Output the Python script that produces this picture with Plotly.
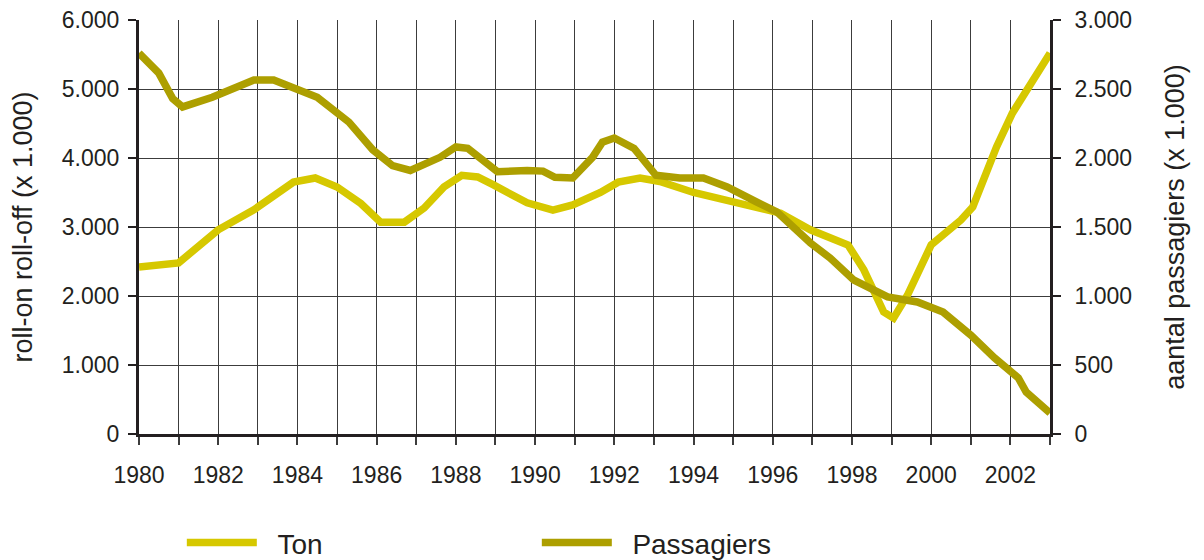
import plotly.graph_objects as go

# ---- data ----
ton_years = [1980.0, 1981.0, 1982.0, 1982.9, 1983.9, 1984.45, 1985.0, 1985.6, 1986.1, 1986.7,
             1987.2, 1987.7, 1988.15, 1988.55, 1988.95, 1989.8, 1990.45, 1990.95, 1991.65, 1992.1,
             1992.65, 1993.15, 1994.0, 1994.9, 1995.7, 1996.2, 1996.95, 1997.9, 1998.3, 1998.8,
             1999.05, 1999.4, 2000.0, 2000.75, 2001.05, 2001.65, 2002.05, 2003.0]
ton_values = [2420, 2480, 2960, 3250, 3650, 3710, 3580, 3340, 3070, 3070,
              3275, 3580, 3750, 3725, 3610, 3350, 3245, 3320, 3500, 3650,
              3710, 3660, 3500, 3370, 3260, 3200, 2960, 2740, 2380, 1770,
              1680, 2010, 2740, 3100, 3290, 4160, 4650, 5520]

pas_years = [1980.0, 1980.5, 1980.85, 1981.1, 1981.85, 1982.4, 1982.9, 1983.4, 1983.9, 1984.5,
             1985.3, 1985.9, 1986.4, 1986.85, 1987.6, 1988.0, 1988.3, 1989.05, 1989.8, 1990.2,
             1990.5, 1990.95, 1991.45, 1991.7, 1992.0, 1992.5, 1993.05, 1993.65, 1994.25, 1994.85,
             1995.6, 1996.1, 1996.95, 1997.45, 1998.05, 1998.45, 1998.9, 1999.65, 2000.3, 2001.0,
             2001.6, 2002.2, 2002.4, 2003.0]
pas_values = [2760, 2615, 2430, 2370, 2440, 2505, 2565, 2565, 2505, 2440,
              2260, 2060, 1945, 1910, 2005, 2080, 2070, 1900, 1910, 1905,
              1860, 1855, 2005, 2115, 2145, 2070, 1875, 1855, 1855, 1790,
              1680, 1610, 1385, 1275, 1115, 1058, 993, 957, 884, 717,
              551, 406, 304, 152]

x_tick_vals = list(range(1980, 2004))
x_tick_text = [str(y) if y % 2 == 0 and y < 2003 else "" for y in x_tick_vals]

left_tick_vals = [0, 1000, 2000, 3000, 4000, 5000, 6000]
left_tick_text = ["0", "1.000", "2.000", "3.000", "4.000", "5.000", "6.000"]
right_tick_vals = [0, 500, 1000, 1500, 2000, 2500, 3000]
right_tick_text = ["0", "500", "1.000", "1.500", "2.000", "2.500", "3.000"]

series_names = ["Ton", "Passagiers"]

TON_COLOR = "#d6c800"
PAS_COLOR = "#ad9f00"
TEXT = "#231f20"
GRID = "#3c3c3c"
FONT = "Liberation Sans, Arial, sans-serif"
PAD = "\u00a0\u00a0"

fig = go.Figure()
fig.add_trace(go.Scatter(x=pas_years, y=pas_values, name=PAD + series_names[1], mode="lines",
                         line=dict(color=PAS_COLOR, width=7.5), yaxis="y2"))
fig.add_trace(go.Scatter(x=ton_years, y=ton_values, name=PAD + series_names[0], mode="lines",
                         line=dict(color=TON_COLOR, width=7.5), yaxis="y"))

fig.update_layout(
    template="none",
    width=1204, height=560, autosize=False,
    margin=dict(l=139, r=154, t=20, b=126, autoexpand=False),
    paper_bgcolor="white", plot_bgcolor="white",
    font=dict(family=FONT, color=TEXT, size=23),
    xaxis=dict(range=[1980, 2003], tickvals=x_tick_vals, ticktext=x_tick_text,
               showgrid=True, gridcolor=GRID, gridwidth=1, automargin=False,
               showline=True, linecolor=TEXT, linewidth=3,
               ticks="outside", ticklen=8, tickwidth=1.5, tickcolor=GRID,
               ticklabelstandoff=10, zeroline=False,
               tickfont=dict(size=23, color=TEXT)),
    yaxis=dict(range=[0, 6000], tickvals=left_tick_vals, ticktext=left_tick_text,
               showgrid=True, gridcolor=GRID, gridwidth=1, automargin=False,
               showline=True, linecolor=TEXT, linewidth=3,
               ticks="outside", ticklen=8, tickwidth=1.5, tickcolor=TEXT,
               ticklabelstandoff=4, zeroline=False,
               tickfont=dict(size=23, color=TEXT),
               title=dict(text="roll-on roll-off (x 1.000)", font=dict(size=27, color=TEXT),
                          standoff=22)),
    yaxis2=dict(range=[0, 3000], tickvals=right_tick_vals, ticktext=right_tick_text,
                overlaying="y", side="right", showgrid=False, automargin=False,
                showline=True, linecolor=TEXT, linewidth=3,
                ticks="outside", ticklen=8, tickwidth=1.5, tickcolor=TEXT,
                ticklabelstandoff=9, zeroline=False,
                tickfont=dict(size=23, color=TEXT),
                title=dict(text="aantal passagiers (x 1.000)", font=dict(size=27, color=TEXT),
                           standoff=34)),
    legend=dict(orientation="h", x=0.047, xanchor="left", y=-0.263, yanchor="middle",
                itemwidth=70, entrywidth=270, traceorder="reversed",
                font=dict(size=28, color=TEXT), bgcolor="rgba(0,0,0,0)"),
    showlegend=True,
)

fig.write_html("out.html", config={"displayModeBar": False},
               post_script="document.body.style.margin='0';")
